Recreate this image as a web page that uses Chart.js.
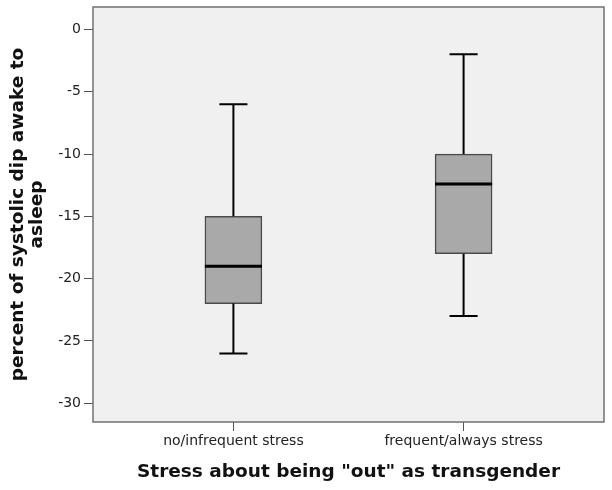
<!DOCTYPE html>
<html lang="en">
<head>
    <meta charset="UTF-8">
    <title>Systolic dip by stress</title>
    <style>
        html, body { margin: 0; padding: 0; background: #fff; }
        #wrap { width: 612px; height: 490px; }
    </style>
</head>
<body>
    <div id="wrap"><canvas id="boxChart" width="612" height="490"></canvas></div>

    <script src="https://cdn.jsdelivr.net/npm/chart.js"></script>
    <script>
        const categories = ['no/infrequent stress', 'frequent/always stress'];
        const whiskerLow = [-26, -23];
        const q1 = [-22, -18];
        const median = [-19, -12.4];
        const q3 = [-15, -10];
        const whiskerHigh = [-6, -2];
        const yTicks = [0, -5, -10, -15, -20, -25, -30];

        // half widths in x units (categories sit at 1 and 2)
        const boxHalf = 0.124;
        const capHalf = 0.061;

        const boxData = categories.map((c, i) => ({ x: i + 1, y: [q1[i], q3[i]] }));

        const medianData = [];
        const stemData = [];
        const capData = [];
        categories.forEach((c, i) => {
            const x = i + 1;
            medianData.push({ x: x - boxHalf, y: median[i] }, { x: x + boxHalf, y: median[i] }, { x: x, y: null });
            stemData.push({ x: x, y: whiskerLow[i] }, { x: x, y: q1[i] }, { x: x, y: null });
            stemData.push({ x: x, y: q3[i] }, { x: x, y: whiskerHigh[i] }, { x: x, y: null });
            capData.push({ x: x - capHalf, y: whiskerLow[i] }, { x: x + capHalf, y: whiskerLow[i] }, { x: x, y: null });
            capData.push({ x: x - capHalf, y: whiskerHigh[i] }, { x: x + capHalf, y: whiskerHigh[i] }, { x: x, y: null });
        });

        const plotFrame = {
            id: 'plotFrame',
            beforeDatasetsDraw(chart) {
                const { ctx, chartArea: a } = chart;
                ctx.save();
                ctx.fillStyle = '#f0f0f0';
                ctx.fillRect(a.left, a.top, a.right - a.left, a.bottom - a.top);
                ctx.restore();
            },
            afterDraw(chart) {
                const { ctx, chartArea: a } = chart;
                ctx.save();
                ctx.strokeStyle = '#707070';
                ctx.lineWidth = 1.5;
                ctx.strokeRect(a.left, a.top, a.right - a.left, a.bottom - a.top);
                ctx.restore();
            }
        };

        const lineStyle = {
            type: 'line',
            borderColor: '#000',
            borderWidth: 2,
            pointRadius: 0,
            fill: false,
            tension: 0,
            spanGaps: false,
            order: 1
        };

        new Chart(document.getElementById('boxChart'), {
            data: {
                datasets: [
                    {
                        type: 'bar',
                        data: boxData,
                        backgroundColor: '#a9a9a9',
                        borderColor: '#4a4a4a',
                        borderWidth: 1.5,
                        borderSkipped: false,
                        barThickness: 57,
                        order: 2
                    },
                    Object.assign({}, lineStyle, { data: stemData }),
                    Object.assign({}, lineStyle, { data: capData }),
                    Object.assign({}, lineStyle, { data: medianData, borderWidth: 3 })
                ]
            },
            plugins: [plotFrame],
            options: {
                responsive: false,
                animation: false,
                layout: { padding: { top: 7, right: 8, left: 0, bottom: 0 } },
                plugins: {
                    legend: { display: false },
                    tooltip: { enabled: false }
                },
                scales: {
                    x: {
                        type: 'linear',
                        offset: false,
                        min: 0.39,
                        max: 2.61,
                        afterBuildTicks: s => { s.ticks = [{ value: 1 }, { value: 2 }]; },
                        afterFit: s => { s.height = 68; s.paddingLeft = 0; s.paddingRight = 0; },
                        border: { display: false },
                        grid: { offset: false, drawOnChartArea: false, tickLength: 9, color: '#555' },
                        ticks: {
                            callback: v => categories[v - 1],
                            color: '#222',
                            font: { family: 'DejaVu Sans', size: 14 },
                            maxRotation: 0,
                            padding: 2
                        },
                        title: {
                            display: true,
                            text: 'Stress about being "out" as transgender',
                            color: '#111',
                            font: { family: 'DejaVu Sans', size: 18.5, weight: 'bold' },
                            padding: { top: 0, bottom: 7 }
                        }
                    },
                    y: {
                        min: -31.5,
                        max: 1.8,
                        afterBuildTicks: s => { s.ticks = yTicks.map(v => ({ value: v })); },
                        afterFit: s => { s.width = 93; s.paddingTop = 0; s.paddingBottom = 0; },
                        border: { display: false },
                        grid: { drawOnChartArea: false, tickLength: 9, color: '#555' },
                        ticks: {
                            color: '#222',
                            font: { family: 'DejaVu Sans', size: 14 },
                            padding: 3
                        },
                        title: {
                            display: true,
                            text: ['percent of systolic dip awake to', 'asleep'],
                            color: '#111',
                            font: { family: 'DejaVu Sans', size: 18.5, weight: 'bold', lineHeight: 1.0 },
                            padding: { top: 9, bottom: 0 }
                        }
                    }
                }
            }
        });
    </script>
</body>
</html>
